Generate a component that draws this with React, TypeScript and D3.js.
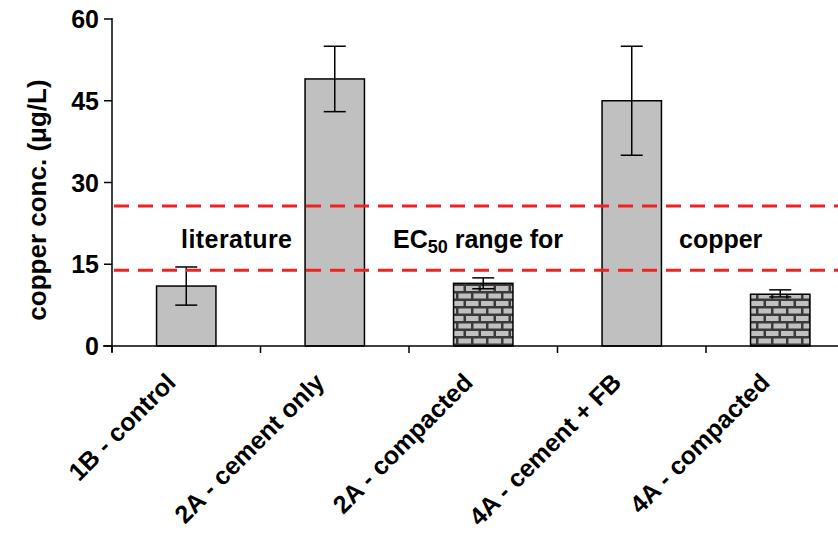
import React from "react";
import * as d3 from "d3";

const categories = ["1B - control", "2A - cement only", "2A - compacted", "4A - cement + FB", "4A - compacted"];
const values = [11, 49, 11.5, 45, 9.5];
const errLow = [7.5, 43, 10.5, 35, 9];
const errHigh = [14.5, 55, 12.5, 55, 10.3];
const brick = [false, false, true, false, true];
const yTicks = [0, 15, 30, 45, 60];
const ecRange = [13.9, 25.7];

const W = 838;
const H = 540;
const margin = { top: 19, left: 112, bottom: 194 };
const font = "Arial, 'Liberation Sans', sans-serif";

export default function App() {
  const x = d3
    .scaleBand<string>()
    .domain(categories)
    .range([margin.left, margin.left + 5 * 148.5])
    .paddingInner(0.6)
    .paddingOuter(0.3);
  const y = d3.scaleLinear().domain([0, 60]).range([H - margin.bottom, margin.top]);
  const bw = x.bandwidth();
  const step = x.step();
  const y0 = y(0);

  return (
    <svg width={W} height={H} style={{ position: "absolute", left: 0, top: 0 }} fontFamily={font}>
      <defs>
        <pattern id="brick" width={15} height={15} patternUnits="userSpaceOnUse">
          <rect width={15} height={15} fill="#3a3a3a" />
          <rect x={1} y={1} width={12.5} height={5} fill="#c0c0c0" />
          <rect x={-6.5} y={8.5} width={12.5} height={5} fill="#c0c0c0" />
          <rect x={8.5} y={8.5} width={12.5} height={5} fill="#c0c0c0" />
        </pattern>
      </defs>

      {/* bars */}
      {categories.map((c, i) => (
        <rect
          key={c}
          x={x(c)}
          y={y(values[i])}
          width={bw}
          height={y0 - y(values[i])}
          fill={brick[i] ? "url(#brick)" : "#c0c0c0"}
          stroke="#000"
          strokeWidth={1.5}
        />
      ))}

      {/* error bars */}
      {categories.map((c, i) => {
        const cx = (x(c) ?? 0) + bw / 2;
        return (
          <g key={"e" + c} stroke="#000" strokeWidth={1.5}>
            <line x1={cx} x2={cx} y1={y(errLow[i])} y2={y(errHigh[i])} />
            <line x1={cx - 11} x2={cx + 11} y1={y(errLow[i])} y2={y(errLow[i])} />
            <line x1={cx - 11} x2={cx + 11} y1={y(errHigh[i])} y2={y(errHigh[i])} />
          </g>
        );
      })}

      {/* EC50 range */}
      {ecRange.map((v) => (
        <line
          key={v}
          x1={margin.left + 2}
          x2={W}
          y1={y(v)}
          y2={y(v)}
          stroke="#ee2222"
          strokeWidth={3}
          strokeDasharray="15,9"
        />
      ))}
      <g fontSize={25} fontWeight="bold" fill="#000">
        <text x={181} y={248} textLength={111}>literature</text>
        <text x={393} y={248}>
          EC<tspan fontSize={18} dy={5}>50</tspan>
          <tspan dy={-5}> range for</tspan>
        </text>
        <text x={679} y={248}>copper</text>
      </g>

      {/* y axis */}
      <line x1={margin.left} x2={margin.left} y1={margin.top - 1} y2={y0 + 6} stroke="#000" strokeWidth={1.5} />
      {yTicks.map((t) => (
        <g key={t}>
          <line x1={margin.left - 8} x2={margin.left} y1={y(t)} y2={y(t)} stroke="#000" strokeWidth={1.5} />
          <text x={margin.left - 13} y={y(t) + 9} textAnchor="end" fontSize={25} fontWeight="bold">
            {t}
          </text>
        </g>
      ))}
      <text
        transform={`translate(46,200) rotate(-90)`}
        textAnchor="middle"
        fontSize={26}
        fontWeight="bold"
      >
        copper conc. (μg/L)
      </text>

      {/* x axis */}
      <line x1={margin.left - 9} x2={W} y1={y0} y2={y0} stroke="#000" strokeWidth={1.5} />
      {d3.range(6).map((k) => (
        <line
          key={k}
          x1={margin.left + k * step}
          x2={margin.left + k * step}
          y1={y0}
          y2={y0 + 7}
          stroke="#000"
          strokeWidth={1.5}
        />
      ))}
      {categories.map((c) => {
        const cx = (x(c) ?? 0) + bw / 2;
        return (
          <text
            key={"l" + c}
            transform={`translate(${cx - 9},${y0 + 38}) rotate(-45)`}
            textAnchor="end"
            fontSize={25}
            fontWeight="bold"
          >
            {c}
          </text>
        );
      })}
    </svg>
  );
}
